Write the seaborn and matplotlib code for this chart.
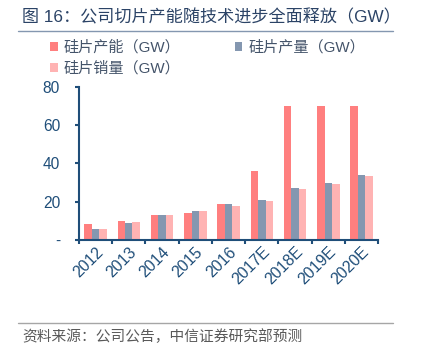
import matplotlib
matplotlib.use("Agg")
import matplotlib.pyplot as plt
import seaborn as sns
import pandas as pd
from matplotlib.lines import Line2D
from matplotlib.ticker import FuncFormatter, FixedLocator

sns.set_style("white")
plt.rcParams['font.family'] = ['Liberation Sans', 'Noto Sans CJK SC', 'DejaVu Sans']

years = ["2012", "2013", "2014", "2015", "2016", "2017E", "2018E", "2019E", "2020E"]
capacity = [8.2, 10.1, 13.0, 14.1, 18.6, 36.0, 70.0, 70.0, 70.0]
production = [5.7, 8.7, 13.2, 15.1, 18.8, 20.9, 27.0, 29.9, 33.9]
sales = [5.7, 9.4, 13.0, 15.1, 17.7, 20.2, 26.4, 29.4, 33.2]
series_names = ["硅片产能（GW）", "硅片产量（GW）", "硅片销量（GW）"]
colors = ["#FF7F7F", "#8497B0", "#FFB3B3"]
title = "图 16：公司切片产能随技术进步全面释放（GW）"
source = "资料来源：公司公告，中信证券研究部预测"

df = pd.DataFrame({
    "year": years * 3,
    "value": capacity + production + sales,
    "series": [series_names[0]] * 9 + [series_names[1]] * 9 + [series_names[2]] * 9,
})

axcolor = "#1F4E79"
fig = plt.figure(figsize=(4.24, 3.49), dpi=100)
ax = fig.add_axes([0.186, 0.312, 0.706, 0.44])

sns.barplot(data=df, x="year", y="value", hue="series", palette=colors,
            width=0.675, saturation=1, linewidth=0, ax=ax, legend=True)

ax.set_xlim(-0.5, 8.5)
ax.set_ylim(0, 80)
ax.set_xlabel("")
ax.set_ylabel("")
for s in ["top", "right"]:
    ax.spines[s].set_visible(False)
for s in ["left", "bottom"]:
    ax.spines[s].set_color(axcolor)
    ax.spines[s].set_linewidth(1.5)

ax.set_yticks([0, 20, 40, 60, 80])
ax.yaxis.set_major_formatter(FuncFormatter(lambda v, p: "-" if v == 0 else f"{int(v)}"))
ax.tick_params(axis="y", direction="out", length=3, width=1.5, color=axcolor,
               labelcolor=axcolor, labelsize=11.2, pad=10.5, left=True)
ax.tick_params(axis="x", which="major", length=0, labelcolor=axcolor, labelsize=11.5, pad=3)
ax.xaxis.set_minor_locator(FixedLocator([i - 0.5 for i in range(10)]))
ax.tick_params(axis="x", which="minor", direction="out", length=3, width=1.5,
               color=axcolor, bottom=True)
for lab in ax.get_xticklabels():
    lab.set_rotation(45)
    lab.set_ha("right")
    lab.set_va("top")
    lab.set_rotation_mode("anchor")

handles, labels = ax.get_legend_handles_labels()
ax.get_legend().remove()
order = [0, 2, 1]
fig.legend([handles[i] for i in order], [labels[i] for i in order],
           loc="upper left", bbox_to_anchor=(0.118, 0.885), ncol=2, frameon=False,
           fontsize=10.9, handlelength=0.5, handleheight=0.5, handletextpad=0.4,
           columnspacing=3.6, labelspacing=0.45, labelcolor="#44546A",
           borderaxespad=0, borderpad=0)

fig.text(0.052, 0.952, title, fontsize=12.3, color="#2B4366", fontweight="medium",
         ha="left", va="center")
fig.add_artist(Line2D([0.042, 0.927], [0.911, 0.911], color="#8497B0", linewidth=1.0))
fig.add_artist(Line2D([0.042, 0.927], [0.074, 0.074], color="#A6A6A6", linewidth=1.0))
fig.text(0.052, 0.034, source, fontsize=10.6, color="#595959", ha="left", va="center")

fig.savefig("out.png", dpi=100)
